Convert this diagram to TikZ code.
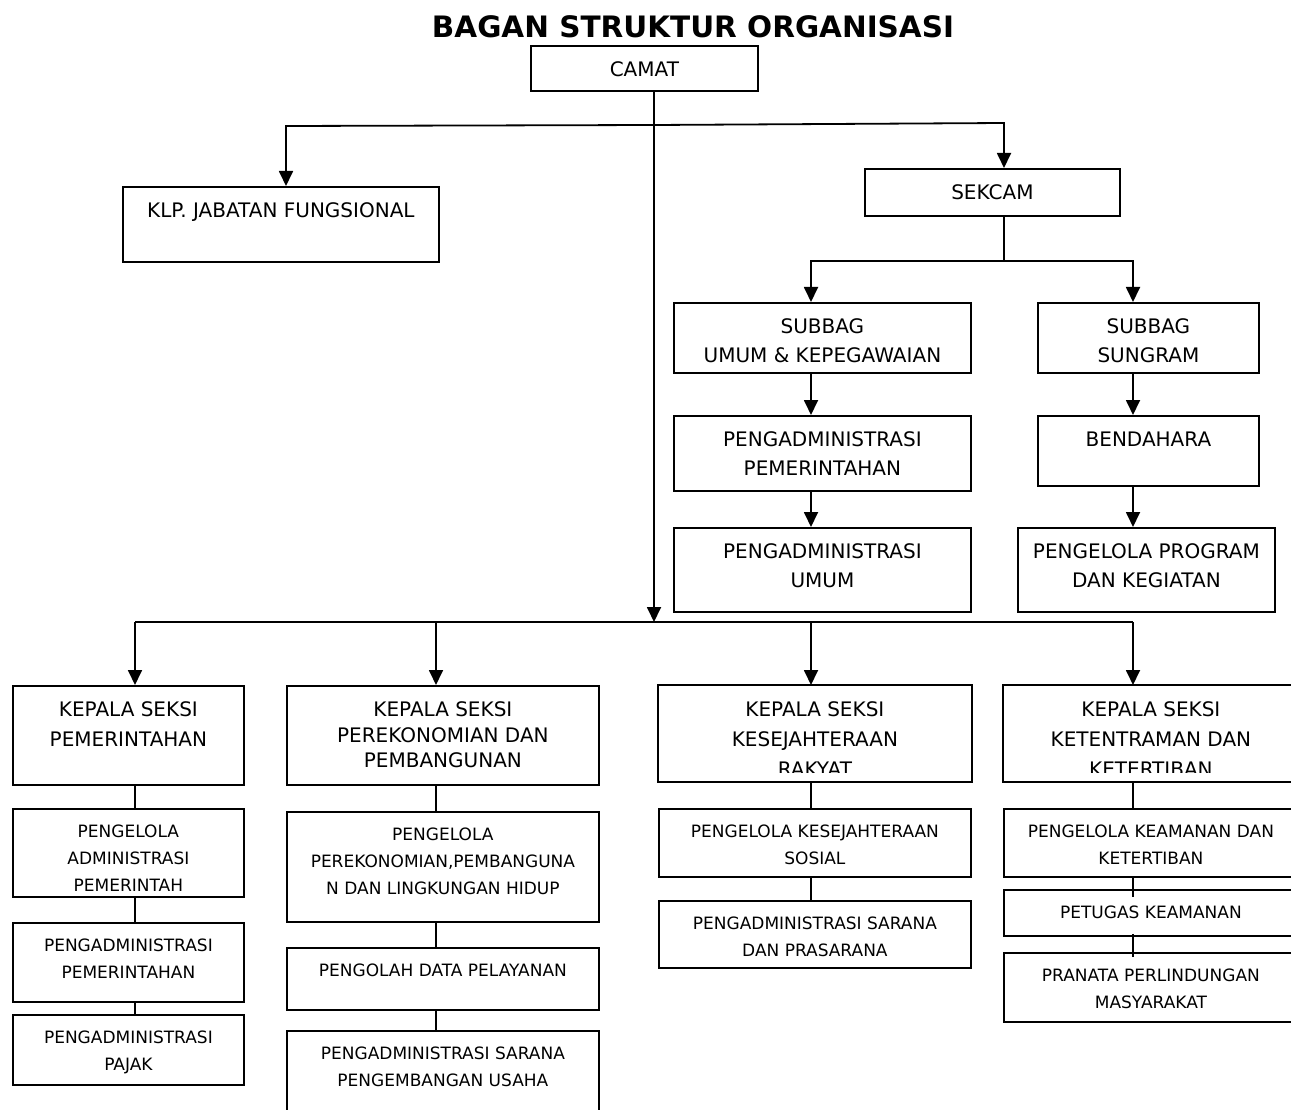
\documentclass[tikz,border=0pt]{standalone}
\usepackage{fontspec}
\setmainfont{DejaVu Sans}
\usepackage{tikz}
\usetikzlibrary{arrows.meta}

\begin{document}
\begin{tikzpicture}[x=1pt, y=-1pt, line width=1.8pt,
	>={Triangle[width=14pt,length=15pt]},
	frame/.style = {draw, line width=1.8pt, anchor=north west, inner sep=0pt},
	box/.style 2 args = {frame, font=\fontsize{20}{29}\selectfont,
		execute at begin node={\begin{minipage}[t][#2pt][t]{#1pt}\centering\rule{0pt}{31pt}},
		execute at end node={\end{minipage}}},
	leaf/.style 2 args = {frame, font=\fontsize{17}{27}\selectfont,
		execute at begin node={\begin{minipage}[t][#2pt][t]{#1pt}\centering\rule{0pt}{29pt}},
		execute at end node={\end{minipage}}},
	link/.style = {line width=1.6pt}]
\useasboundingbox (0,0) rectangle (1291,1110);
\node[font=\fontsize{29.5}{32}\selectfont\bfseries] (judul) at (693,27) {BAGAN STRUKTUR ORGANISASI};
\node[box={227}{45}] (camat) at (530,45) {CAMAT};
	\node[box={316}{75}] (klp) at (122,186) {KLP. JABATAN FUNGSIONAL};
\node[box={255}{47}] (sekcam) at (864,168) {SEKCAM};
\node[box={297}{70}] (sbu) at (673,302) {SUBBAG\\UMUM \& KEPEGAWAIAN};
	\node[box={297}{75}] (pap) at (673,415) {PENGADMINISTRASI\\PEMERINTAHAN};
	\node[box={297}{84}] (pau) at (673,527) {PENGADMINISTRASI\\UMUM};
\node[box={221}{70}] (sbs) at (1037,302) {SUBBAG\\SUNGRAM};
	\node[box={221}{70}] (bdh) at (1037,415) {BENDAHARA};
	\node[box={257}{84}] (ppk) at (1017,527) {PENGELOLA PROGRAM\\DAN KEGIATAN};
\node[box={231}{99}, font=\fontsize{20}{30}\selectfont] (ks1) at (12,685) {KEPALA SEKSI\\PEMERINTAHAN};
\node[box={312}{99}, font=\fontsize{20}{25.5}\selectfont] (ks2) at (286,685) {KEPALA SEKSI\\PEREKONOMIAN DAN\\PEMBANGUNAN};
\begin{scope}
\clip (650,680) rectangle (1300,772);
\node[box={312}{95}, draw=none, font=\fontsize{20}{30}\selectfont] (ks3) at (658,685) {KEPALA SEKSI\\KESEJAHTERAAN\\RAKYAT};
\node[box={294}{95}, draw=none, font=\fontsize{20}{30}\selectfont] (ks4) at (1003,685) {KEPALA SEKSI\\KETENTRAMAN DAN\\KETERTIBAN};
\end{scope}
\draw (ks3.north west) rectangle (ks3.south east);
\draw (ks4.north west) rectangle (ks4.south east);
	\node[leaf={231}{88}] (p11) at (12,808) {PENGELOLA\\ADMINISTRASI\\PEMERINTAH};
	\node[leaf={231}{79}] (p12) at (12,922) {PENGADMINISTRASI\\PEMERINTAHAN};
	\node[leaf={231}{70}] (p13) at (12,1014) {PENGADMINISTRASI\\PAJAK};
	\node[leaf={312}{110}] (p21) at (286,811) {PENGELOLA\\PEREKONOMIAN,PEMBANGUNA\\N DAN LINGKUNGAN HIDUP};
	\node[leaf={312}{62}] (p22) at (286,947) {PENGOLAH DATA PELAYANAN};
	\node[leaf={312}{100}] (p23) at (286,1030) {PENGADMINISTRASI SARANA\\PENGEMBANGAN USAHA};
	\node[leaf={312}{68}] (p31) at (658,808) {PENGELOLA KESEJAHTERAAN\\SOSIAL};
	\node[leaf={312}{67}] (p32) at (658,900) {PENGADMINISTRASI SARANA\\DAN PRASARANA};
	\node[leaf={294}{68}] (p41) at (1003,808) {PENGELOLA KEAMANAN DAN\\KETERTIBAN};
	\node[leaf={294}{46}] (p42) at (1003,889) {PETUGAS KEAMANAN};
	\node[leaf={294}{69}] (p43) at (1003,952) {PRANATA PERLINDUNGAN\\MASYARAKAT};
\coordinate (atas) at (654,125);
\coordinate (bawah) at (654,622);
\coordinate (kiri) at (286,126);
\coordinate (kanan) at (1004,123);
\coordinate (sek) at (1004,261);
\coordinate (s1) at (811,261);
\coordinate (s2) at (1133,261);
\coordinate (k1) at (135,622);
\coordinate (k2) at (436,622);
\coordinate (k3) at (811,622);
\coordinate (k4) at (1133,622);
\draw[->] (camat.south -| atas) -- (bawah);
\draw[->] (atas) -- (kiri) -- (kiri |- klp.north);
\draw[->] (atas) -- (kanan) -- (kanan |- sekcam.north);
\draw (sekcam.south -| sek) -- (sek);
\draw[->] (sek) -- (s1) -- (s1 |- sbu.north);
\draw[->] (sek) -- (s2) -- (s2 |- sbs.north);
\draw[->] (sbu.south -| s1) -- (pap.north -| s1);
\draw[->] (pap.south -| s1) -- (pau.north -| s1);
\draw[->] (sbs.south -| s2) -- (bdh.north -| s2);
\draw[->] (bdh.south -| s2) -- (ppk.north -| s2);
\draw (k1) -- (k4);
\draw[->] (k1) -- (k1 |- ks1.north);
\draw[->] (k2) -- (k2 |- ks2.north);
\draw[->] (k3) -- (k3 |- ks3.north);
\draw[->] (k4) -- (k4 |- ks4.north);
\draw[link] (ks1.south -| k1) -- (p11.north -| k1);
\draw[link] (p11.south -| k1) -- (p12.north -| k1);
\draw[link] (p12.south -| k1) -- (p13.north -| k1);
\draw[link] (ks2.south -| k2) -- (p21.north -| k2);
\draw[link] (p21.south -| k2) -- (p22.north -| k2);
\draw[link] (p22.south -| k2) -- (p23.north -| k2);
\draw[link] (ks3.south -| k3) -- (p31.north -| k3);
\draw[link] (p31.south -| k3) -- (p32.north -| k3);
\draw[link] (ks4.south -| k4) -- (p41.north -| k4);
\draw[link, shorten >=-8pt] (p41.south -| k4) -- (p42.north -| k4);
\draw[link, shorten <=-3pt, shorten >=-5pt] (p42.south -| k4) -- (p43.north -| k4);
\end{tikzpicture}
\end{document}
